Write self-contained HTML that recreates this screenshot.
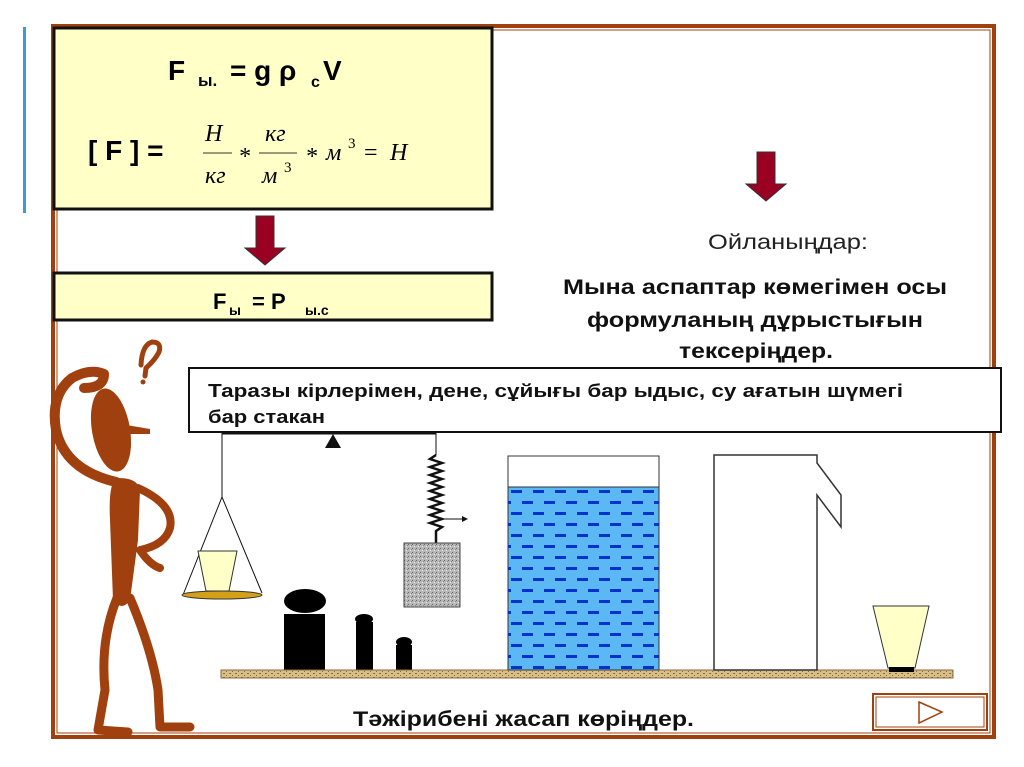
<!DOCTYPE html>
<html><head><meta charset="utf-8"><style>
body{margin:0;background:#fff}
svg{display:block;font-family:"Liberation Sans",sans-serif}
</style></head><body>
<svg width="1024" height="767" viewBox="0 0 1024 767" xmlns="http://www.w3.org/2000/svg">
<defs>
<pattern id="wd" x="507" y="487" width="22" height="22" patternUnits="userSpaceOnUse">
<rect x="4" y="3" width="11" height="3" fill="#0033cc"/>
<rect x="-7" y="14" width="11" height="3" fill="#0033cc"/>
<rect x="15" y="14" width="11" height="3" fill="#0033cc"/>
</pattern>
<pattern id="gr" width="4" height="4" patternUnits="userSpaceOnUse">
<rect width="4" height="4" fill="#b8b8b8"/><rect x="0" y="0" width="1" height="1" fill="#666"/><rect x="2" y="2" width="1" height="1" fill="#eee"/><rect x="3" y="1" width="1" height="1" fill="#888"/>
</pattern>
<pattern id="sh" width="6" height="4" patternUnits="userSpaceOnUse">
<rect width="6" height="4" fill="#d8bf8a"/><rect x="1" y="1" width="2" height="1" fill="#8a6a3a"/><rect x="4" y="3" width="1" height="1" fill="#8a6a3a"/>
</pattern>
</defs>
<rect x="23" y="27" width="3" height="186" fill="#3a9ae0"/>
<!-- frame -->
<rect x="53" y="26" width="941" height="711" fill="none" stroke="#A0400F" stroke-width="4"/>
<rect x="57" y="30" width="933" height="703" fill="none" stroke="#A0400F" stroke-width="1"/>
<!-- box1 -->
<rect x="54" y="28" width="438" height="181" fill="#FFFFC8" stroke="#111" stroke-width="3"/>
<text x="168" y="80" font-size="28" font-weight="bold">F</text>
<text x="198" y="86" font-size="17" font-weight="bold">ы.</text>
<text x="230" y="80" font-size="28" font-weight="bold">= g ρ</text>
<text x="311" y="87" font-size="16" font-weight="bold">c</text>
<text x="323" y="80" font-size="28" font-weight="bold">V</text>
<text x="88" y="160" font-size="28" font-weight="bold">[ F ] =</text>
<g font-family="Liberation Serif,serif" font-style="italic" font-size="24">
<text x="205" y="141">Н</text><text x="205" y="183">кг</text>
<line x1="203" y1="153" x2="232" y2="153" stroke="#333" stroke-width="1"/>
<text x="238" y="164">*</text>
<text x="265" y="141">кг</text><text x="262" y="183">м</text><text x="284" y="172" font-size="15" font-style="normal">3</text>
<line x1="259" y1="153" x2="297" y2="153" stroke="#333" stroke-width="1"/>
<text x="305" y="164">*</text>
<text x="326" y="160">м</text><text x="348" y="148" font-size="15" font-style="normal">3</text>
<text x="364" y="160" font-style="normal">=</text>
<text x="390" y="160">Н</text>
</g>
<!-- arrows -->
<polygon points="256,216 274,216 274,248 285,248 265,265 245,248 256,248" fill="#990022" stroke="#333" stroke-width="1"/>
<polygon points="757,152 775,152 775,184 786,184 766,201 746,184 757,184" fill="#990022" stroke="#333" stroke-width="1"/>
<!-- box2 -->
<rect x="54" y="273" width="438" height="47" fill="#FFFFC8" stroke="#111" stroke-width="3"/>
<text x="213" y="309" font-size="22" font-weight="bold">F</text>
<text x="229" y="315" font-size="14" font-weight="bold">ы</text>
<text x="252" y="309" font-size="22" font-weight="bold">= P</text>
<text x="305" y="315" font-size="14" font-weight="bold">ы.с</text>
<!-- right text -->
<text x="708" y="249" font-size="21" fill="#222" textLength="160" lengthAdjust="spacingAndGlyphs">Ойланыңдар:</text>
<g font-size="21" font-weight="bold" fill="#111">
<text x="563" y="294" textLength="384" lengthAdjust="spacingAndGlyphs">Мына аспаптар көмегімен осы</text>
<text x="587" y="327" textLength="336" lengthAdjust="spacingAndGlyphs">формуланың дұрыстығын</text>
<text x="679" y="358" textLength="154" lengthAdjust="spacingAndGlyphs">тексеріңдер.</text>
</g>
<!-- text box -->
<rect x="189" y="368" width="812" height="64" fill="#fff" stroke="#111" stroke-width="2"/>
<text x="208" y="397" font-size="18" font-weight="bold" fill="#111" textLength="695" lengthAdjust="spacingAndGlyphs">Таразы кірлерімен, дене, сұйығы бар ыдыс, су ағатын шүмегі</text>
<text x="208" y="423" font-size="18" font-weight="bold" fill="#111" textLength="117" lengthAdjust="spacingAndGlyphs">бар стакан</text>
<!-- balance -->
<line x1="222" y1="433" x2="436" y2="433" stroke="#111" stroke-width="3"/>
<polygon points="333,434 325,448 341,448" fill="#111"/>
<line x1="222" y1="433" x2="222" y2="497" stroke="#111"/>
<polyline points="183,595 222,497 262,593" fill="none" stroke="#111"/>
<polygon points="198,551 237,551 229,591 206,591" fill="#FFFFC8" stroke="#333"/>
<ellipse cx="222" cy="595" rx="40" ry="4" fill="#D4A017" stroke="#333"/>
<line x1="436" y1="433" x2="436" y2="455" stroke="#111"/>
<polyline points="436,455 430,459 442,463 430,467 442,471 430,475 442,479 430,483 442,487 430,491 442,495 430,499 442,503 430,507 442,511 430,515 442,519 430,523 442,527 436,531 436,543" fill="none" stroke="#111" stroke-width="2.5"/>
<line x1="442" y1="519" x2="464" y2="519" stroke="#111"/>
<polygon points="468,519 462,516 462,522" fill="#111"/>
<rect x="404" y="543" width="56" height="64" fill="url(#gr)" stroke="#444"/>
<!-- weights -->
<ellipse cx="305" cy="601" rx="21" ry="12" fill="#000"/>
<rect x="284" y="614" width="41" height="56" fill="#000"/>
<ellipse cx="364" cy="619" rx="9" ry="5" fill="#000"/>
<rect x="356" y="622" width="17" height="48" fill="#000"/>
<ellipse cx="404" cy="642" rx="8" ry="5" fill="#000"/>
<rect x="396" y="645" width="16" height="25" fill="#000"/>
<!-- shelf -->
<rect x="221" y="670" width="732" height="8" fill="url(#sh)" stroke="#8a6a3a"/>
<!-- beaker -->
<rect x="508" y="456" width="151" height="214" fill="#fff" stroke="#333"/>
<rect x="508" y="487" width="151" height="183" fill="#5BB8F5" stroke="#333"/>
<rect x="508" y="487" width="151" height="183" fill="url(#wd)"/>
<!-- jug -->
<polygon points="714,670 714,455 817,455 817,463 841,495 841,527 817,495 817,670" fill="#fff" stroke="#333" stroke-width="1.5"/>
<!-- cup right -->
<polygon points="873,606 929,606 915,668 888,668" fill="#FFFFC8" stroke="#333"/>
<rect x="889" y="667" width="25" height="5" fill="#000"/>
<!-- bottom -->
<text x="353" y="726" font-size="21" font-weight="bold" fill="#111" textLength="341" lengthAdjust="spacingAndGlyphs">Тәжірибені жасап көріңдер.</text>
<rect x="873" y="694" width="114" height="36" fill="#fff" stroke="#A0400F" stroke-width="2"/>
<rect x="876" y="697" width="108" height="30" fill="none" stroke="#A0400F" stroke-width="1"/>
<polygon points="919,702 942,712 919,723" fill="none" stroke="#A0400F" stroke-width="1.5"/>
<!-- man -->
<g fill="#A0400F" stroke="#A0400F" stroke-linecap="round" stroke-linejoin="round">
<path d="M141,365 Q142,345 152,342 Q162,342 159,352 Q155,360 146,368 L145,376" fill="none" stroke-width="5"/>
<circle cx="143" cy="382" r="2.5" stroke="none"/>
<ellipse cx="111" cy="430" rx="19" ry="42" transform="rotate(-10 111 430)" stroke="none"/>
<polygon points="126,425 150,429 150,434 126,434" stroke="none"/>
<path d="M118,478 Q108,480 110,520 L113,600 Q122,612 130,600 L138,540 L140,490 Q138,478 118,478Z" stroke="none"/>
<path d="M116,482 Q65,470 56,430 Q50,395 72,378 Q90,368 104,374 Q104,388 84,388" fill="none" stroke-width="10"/>
<path d="M138,488 Q175,505 170,528 Q165,545 140,550 Q150,565 160,568" fill="none" stroke-width="8"/>
<path d="M117,598 Q100,640 105,690 L98,730 L128,732" fill="none" stroke-width="9"/>
<path d="M130,598 Q152,650 158,690 L160,727 L190,727" fill="none" stroke-width="9"/>
</g>
</svg>
</body></html>
